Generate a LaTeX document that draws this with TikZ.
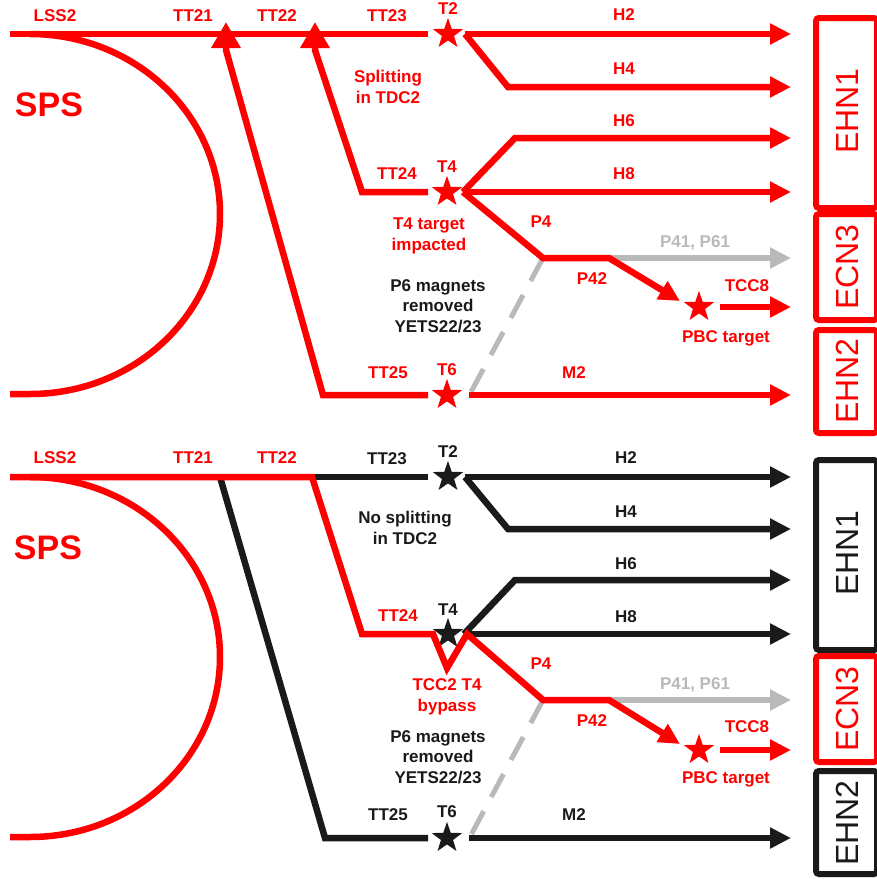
\documentclass[tikz,border=0pt]{standalone}
\usepackage{fontspec}
\setmainfont{Liberation Sans}
\usetikzlibrary{arrows.meta,shapes.geometric}
\definecolor{beamred}{RGB}{255,0,0}
\definecolor{beamblack}{RGB}{26,26,26}
\definecolor{beamgray}{RGB}{185,185,185}
\begin{document}
\begin{tikzpicture}[x=1pt,y=-1pt,
    every node/.style={font=\bfseries\fontsize{17}{20.5}\selectfont,inner sep=0pt,align=center},
    beam/.style={line width=6.5pt},
    tip/.style={-{Triangle[length=21pt,width=20pt]}},
    bigtip/.style={-{Triangle[length=26pt,width=28pt]}},
    gone/.style={line width=5pt,beamgray,dash pattern=on 26pt off 16pt},
    tgt/.style={star,star points=5,star point ratio=2.5,minimum size=32pt,fill},
    hall/.style={line width=6pt,rounded corners=3pt},
    hallname/.style={font=\fontsize{32}{32}\selectfont,rotate=90}]
\useasboundingbox (0,0) rectangle (877,879);

% ---- upper panel ----
\node[tgt,beamred] (T2) at (448,34) {};
\node[tgt,beamred] (T4) at (447,192) {};
\node[tgt,beamred] (T6) at (447,395) {};
\node[tgt,beamred] (PBC) at (699,307) {};
\coordinate (lss) at (10,34);
\coordinate (ring) at (10,394);
\coordinate (a21) at (226,50);
\coordinate (t21) at (226,22);
\coordinate (a22) at (315,50);
\coordinate (t22) at (315,22);
\coordinate (c24) at (362,192);
\coordinate (c25) at (323,395);
\coordinate (k4) at (508,87);
\coordinate (k6) at (515,138);
\coordinate (kp4) at (543,258);
\coordinate (kp42) at (609,258);
\coordinate (d6) at (471,392);
\coordinate (eH2) at (791,34);
\coordinate (eH4) at (791,87);
\coordinate (eH6) at (791,138);
\coordinate (eH8) at (791,192);
\coordinate (eP41) at (791,258);
\coordinate (eTCC8) at (791,307);
\coordinate (eM2) at (791,395);

\draw[beam,beamred] (ring) -- ++(20,0) arc[start angle=90,end angle=-90,x radius=190,y radius=180];
\draw[beam,beamred] (lss) -- ([xshift=-20pt]T2.center);
\draw[beam,beamred,bigtip] ([xshift=-19pt]T6.center) -- (c25) -- (a21) -- (t21);
\draw[beam,beamred,bigtip] ([xshift=-19pt]T4.center) -- (c24) -- (a22) -- (t22);
\draw[beam,beamred,tip] ([xshift=17pt]T2.center) -- (eH2);
\draw[beam,beamred,tip] ([xshift=17pt]T2.center) -- (k4) -- (eH4);
\draw[beam,beamred,tip] ([xshift=16pt]T4.center) -- (k6) -- (eH6);
\draw[beam,beamred,tip] ([xshift=16pt]T4.center) -- (eH8);
\draw[gone] (kp4) -- (d6);
\draw[beam,beamgray,tip] (kp42) -- (eP41);
\draw[beam,beamred,tip] ([xshift=16pt]T4.center) -- (kp4) -- (kp42) -- ([xshift=-19pt,yshift=6pt]PBC.center);
\draw[beam,beamred,tip] ([xshift=21pt]PBC.center) -- (eTCC8);
\draw[beam,beamred,tip] ([xshift=22pt]T6.center) -- (eM2);

\draw[hall,beamred] (816,18) rectangle (877,208);
\draw[hall,beamred] (816,214) rectangle (877,320);
\draw[hall,beamred] (816,330) rectangle (877,433);
\node[hallname,beamred] (EHN1) at (847,111) {EHN1};
\node[hallname,beamred] (ECN3) at (847,267) {ECN3};
\node[hallname,beamred] (EHN2) at (847,381) {EHN2};

\node[beamred,font=\bfseries\fontsize{34}{34}\selectfont] (SPS) at (49,105) {SPS};
\node[beamred] (lLSS) at (55,16) {LSS2};
\node[beamred] (lTT21) at (193,16) {TT21};
\node[beamred] (lTT22) at (277,16) {TT22};
\node[beamred] (lTT23) at (387,16) {TT23};
\node[beamred] (lT2) at (448,9) {T2};
\node[beamred] (lH2) at (624,15) {H2};
\node[beamred] (lH4) at (624,69) {H4};
\node[beamred] (lH6) at (624,121) {H6};
\node[beamred] (lH8) at (624,174) {H8};
\node[beamred] (lsplit) at (388,87) {Splitting\\in TDC2};
\node[beamred] (lTT24) at (397,174) {TT24};
\node[beamred] (lT4) at (447,167) {T4};
\node[beamred] (limp) at (429,236) {T4 target\\impacted};
\node[beamred] (lP4) at (541,222) {P4};
\node[beamgray] (lP41) at (695,243) {P41, P61};
\node[beamred] (lP42) at (592,279) {P42};
\node[beamred] (lTCC8) at (747,286) {TCC8};
\node[beamred] (lPBC) at (726,338) {PBC target};
\node[beamblack] (lP6) at (438,306) {P6 magnets\\removed\\YETS22/23};
\node[beamred] (lTT25) at (388,373) {TT25};
\node[beamred] (lT6) at (447,370) {T6};
\node[beamred] (lM2) at (574,373) {M2};

% ---- lower panel ----
\begin{scope}[yshift=-442pt]
\node[tgt,beamblack] (bT2) at (448,35) {};
\node[tgt,beamblack] (bT4) at (448,192) {};
\node[tgt,beamblack] (bT6) at (447,396) {};
\node[tgt,beamred] (bPBC) at (699,308) {};
\coordinate (blss) at (10,35);
\coordinate (bring) at (10,395);
\coordinate (bs21) at (220,35);
\coordinate (bs22) at (312,35);
\coordinate (bc24) at (362,192);
\coordinate (bv1) at (433,192);
\coordinate (bv2) at (447,226);
\coordinate (bv3) at (467,192);
\coordinate (bc25) at (325,396);
\coordinate (bk4) at (508,87);
\coordinate (bk6) at (515,138);
\coordinate (bkp4) at (543,258);
\coordinate (bkp42) at (609,258);
\coordinate (bd6) at (471,393);
\coordinate (beH2) at (791,35);
\coordinate (beH4) at (791,87);
\coordinate (beH6) at (791,138);
\coordinate (beH8) at (791,192);
\coordinate (beP41) at (791,258);
\coordinate (beTCC8) at (791,308);
\coordinate (beM2) at (791,396);

\draw[beam,beamred] (bring) -- ++(20,0) arc[start angle=90,end angle=-90,x radius=190,y radius=180];
\draw[beam,beamblack] (bs21) -- (bc25) -- ([xshift=-19pt]bT6.center);
\draw[beam,beamblack] (bs22) -- ([xshift=-20pt]bT2.center);
\draw[beam,beamblack,tip] ([xshift=17pt]bT2.center) -- (beH2);
\draw[beam,beamblack,tip] ([xshift=17pt]bT2.center) -- (bk4) -- (beH4);
\draw[beam,beamblack,tip] ([xshift=16pt]bT4.center) -- (bk6) -- (beH6);
\draw[beam,beamblack,tip] ([xshift=16pt]bT4.center) -- (beH8);
\draw[gone] (bkp4) -- (bd6);
\draw[beam,beamgray,tip] (bkp42) -- (beP41);
\draw[beam,beamred,tip] (blss) -- (bs22) -- (bc24) -- (bv1) -- (bv2) -- (bv3) -- (bkp4) -- (bkp42) -- ([xshift=-19pt,yshift=6pt]bPBC.center);
\draw[beam,beamred,tip] ([xshift=21pt]bPBC.center) -- (beTCC8);
\draw[beam,beamblack,tip] ([xshift=22pt]bT6.center) -- (beM2);

\draw[hall,beamblack] (816,18) rectangle (877,208);
\draw[hall,beamred] (816,214) rectangle (877,320);
\draw[hall,beamblack] (816,329) rectangle (877,432);
\node[hallname,beamblack] (bEHN1) at (847,111) {EHN1};
\node[hallname,beamred] (bECN3) at (847,267) {ECN3};
\node[hallname,beamblack] (bEHN2) at (847,381) {EHN2};

\node[beamred,font=\bfseries\fontsize{34}{34}\selectfont] (bSPS) at (48,106) {SPS};
\node[beamred] (bLSS) at (55,16) {LSS2};
\node[beamred] (bTT21) at (193,16) {TT21};
\node[beamred] (bTT22) at (277,16) {TT22};
\node[beamblack] (bTT23) at (387,17) {TT23};
\node[beamblack] (bT2l) at (448,10) {T2};
\node[beamblack] (bH2) at (626,16) {H2};
\node[beamblack] (bH4) at (626,70) {H4};
\node[beamblack] (bH6) at (626,122) {H6};
\node[beamblack] (bH8) at (626,175) {H8};
\node[beamblack] (bsplit) at (405,86) {No splitting\\in TDC2};
\node[beamred] (bTT24) at (398,174) {TT24};
\node[beamblack] (bT4l) at (448,168) {T4};
\node[beamred] (bbyp) at (447,255) {TCC2 T4\\bypass};
\node[beamred] (bP4) at (541,222) {P4};
\node[beamgray] (bP41) at (695,243) {P41, P61};
\node[beamred] (bP42) at (592,279) {P42};
\node[beamred] (bTCC8) at (747,285) {TCC8};
\node[beamred] (bPBCl) at (726,337) {PBC target};
\node[beamblack] (bP6) at (438,315) {P6 magnets\\removed\\YETS22/23};
\node[beamblack] (bTT25) at (388,373) {TT25};
\node[beamblack] (bT6l) at (447,370) {T6};
\node[beamblack] (bM2) at (574,373) {M2};
\end{scope}
\end{tikzpicture}
\end{document}
